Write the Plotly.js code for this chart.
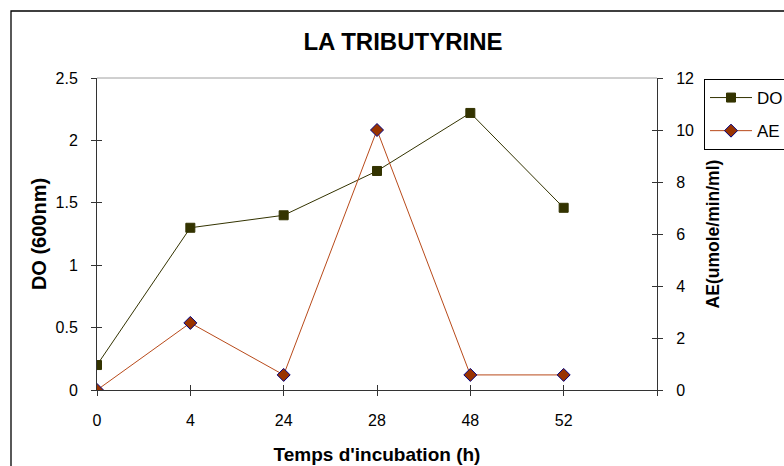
<!DOCTYPE html>
<html>
<head>
<meta charset="utf-8">
<script src="https://cdn.plot.ly/plotly-3.0.1.min.js"></script>
<style>
  html, body { margin: 0; padding: 0; background: #ffffff; }
  #chart { width: 784px; height: 466px; }
</style>
</head>
<body>
<div id="chart"></div>
<script>
// Incubation times (h), used as category labels
const hours = ['0', '4', '24', '28', '48', '52'];
// Optical density at 600 nm
const doValues = [0.2, 1.30, 1.40, 1.755, 2.22, 1.46];
// Enzyme activity (umole/min/ml)
const aeValues = [0, 2.58, 0.58, 10.0, 0.58, 0.58];

const FONT = 'Liberation Sans, Arial, sans-serif';
const tickPositions = [0, 1, 2, 3, 4, 5, 6];

const traces = [
  {
    x: hours, y: doValues, name: 'DO', type: 'scatter', mode: 'lines+markers',
    xaxis: 'x', yaxis: 'y', legendgroup: 'g1',
    line: { color: '#333300', width: 1 },
    marker: { symbol: 'square', size: 9, color: '#333300', line: { color: '#333300', width: 1 } }
  },
  {
    x: hours, y: aeValues, name: 'AE', type: 'scatter', mode: 'lines+markers',
    xaxis: 'x', yaxis: 'y2', legendgroup: 'g2',
    line: { color: '#b84a1a', width: 1 },
    marker: { symbol: 'diamond', size: 10, color: '#993300', line: { color: '#000080', width: 1 } }
  },
  // empty traces so the tick-only overlay axes get drawn
  { x: [], y: [], type: 'scatter', mode: 'markers', xaxis: 'x2', yaxis: 'y3', showlegend: false, hoverinfo: 'skip' },
  { x: [], y: [], type: 'scatter', mode: 'markers', xaxis: 'x3', yaxis: 'y4', showlegend: false, hoverinfo: 'skip' }
];

const tickFont = { family: FONT, size: 16, color: '#000000' };

const layout = {
  width: 784, height: 466,
  margin: { l: 97, r: 127, t: 78, b: 76, pad: 0, autoexpand: false },
  paper_bgcolor: '#ffffff', plot_bgcolor: '#ffffff',
  showlegend: true,
  title: {
    text: '<b>LA TRIBUTYRINE</b>',
    font: { family: FONT, size: 24, color: '#000000' },
    x: 403 / 784, xanchor: 'center', xref: 'container',
    y: 1 - 42 / 466, yanchor: 'middle', yref: 'container'
  },
  xaxis: {
    type: 'category', range: [0, 6], automargin: false,
    showgrid: false, zeroline: false,
    showline: true, linecolor: '#333333', linewidth: 1,
    ticks: 'outside', ticklen: 5, tickwidth: 1, tickcolor: '#333333',
    tickfont: tickFont, ticklabelstandoff: 11,
    title: { text: "<b>Temps d'incubation (h)</b>", font: { family: FONT, size: 19, color: '#000000' }, standoff: 19 }
  },
  // overlay axes: give the ticks their crossing look
  xaxis2: {
    overlaying: 'x', anchor: 'y3', range: [0, 6], automargin: false, showgrid: false, zeroline: false, showline: false,
    tickmode: 'array', tickvals: tickPositions, ticks: 'inside', ticklen: 5, tickwidth: 1, tickcolor: '#333333',
    showticklabels: false
  },
  xaxis3: {
    overlaying: 'x', anchor: 'y4', range: [0, 6], automargin: false, showgrid: false, zeroline: false, showline: false,
    tickmode: 'array', tickvals: [6], ticks: 'outside', ticklen: 5, tickwidth: 1, tickcolor: '#333333',
    showticklabels: false
  },
  yaxis: {
    range: [0, 2.5], dtick: 0.5, tick0: 0, automargin: false,
    showgrid: false, zeroline: false,
    showline: true, linecolor: '#333333', linewidth: 1,
    ticks: 'outside', ticklen: 5, tickwidth: 1, tickcolor: '#333333',
    tickfont: tickFont, ticklabelstandoff: 10,
    title: { text: '<b>DO (600nm)</b>', font: { family: FONT, size: 20, color: '#000000' }, standoff: 3 }
  },
  yaxis2: {
    overlaying: 'y', side: 'right', anchor: 'x', automargin: false,
    range: [0, 12], dtick: 2, tick0: 0,
    showgrid: false, zeroline: false,
    showline: true, linecolor: '#333333', linewidth: 1,
    ticks: 'outside', ticklen: 5, tickwidth: 1, tickcolor: '#333333',
    tickfont: tickFont, ticklabelstandoff: 10,
    title: { text: '<b>AE(umole/min/ml)</b>', font: { family: FONT, size: 17.5, color: '#000000' }, standoff: 13 }
  },
  yaxis3: {
    overlaying: 'y', side: 'left', anchor: 'x2', range: [0, 2.5], dtick: 0.5, tick0: 0, automargin: false,
    showgrid: false, zeroline: false, showline: false,
    ticks: 'inside', ticklen: 5, tickwidth: 1, tickcolor: '#333333', showticklabels: false
  },
  yaxis4: {
    overlaying: 'y', side: 'right', anchor: 'x3', range: [0, 12], dtick: 2, tick0: 0, automargin: false,
    showgrid: false, zeroline: false, showline: false,
    ticks: 'inside', ticklen: 5, tickwidth: 1, tickcolor: '#333333', showticklabels: false
  },
  legend: {
    x: (704 - 97) / 560, xanchor: 'left', xref: 'paper',
    y: 1 - (79 - 78) / 312, yanchor: 'top', yref: 'paper',
    bgcolor: '#ffffff', bordercolor: '#000000', borderwidth: 1,
    font: { family: FONT, size: 17, color: '#000000' },
    itemwidth: 42,
    traceorder: 'grouped', tracegroupgap: 8
  },
  shapes: [
    // light frame along the top of the plot area
    { type: 'line', xref: 'paper', yref: 'paper', x0: 0, x1: 1, y0: 1, y1: 1,
      line: { color: '#a0a0a0', width: 1 } },
    // chart area border
    { type: 'rect', xref: 'paper', yref: 'paper',
      x0: (11 - 97) / 560, x1: 2, y0: -1, y1: 1 + (78 - 11) / 312,
      line: { color: '#000000', width: 1.3 }, layer: 'below' }
  ]
};

Plotly.newPlot('chart', traces, layout, { displayModeBar: false, staticPlot: true });
</script>
</body>
</html>
